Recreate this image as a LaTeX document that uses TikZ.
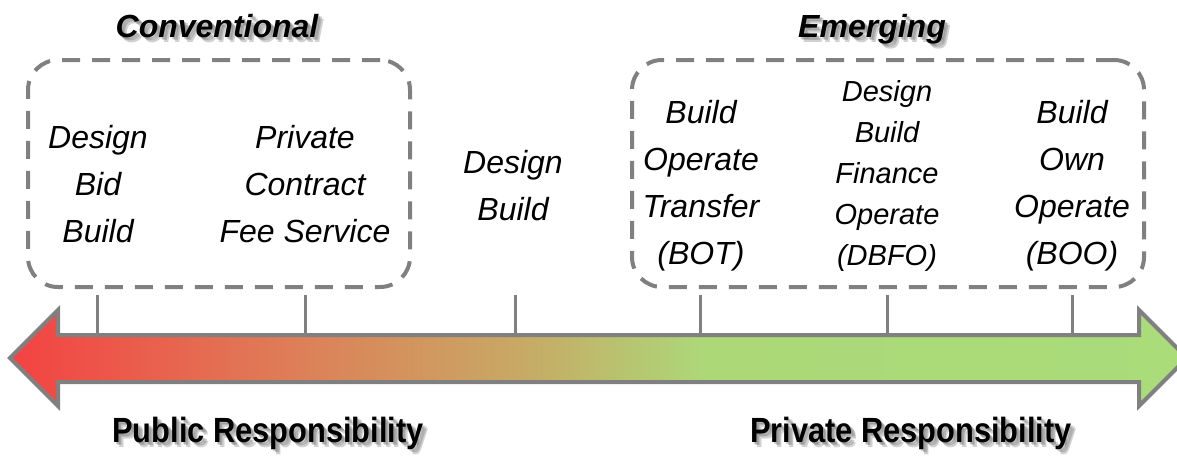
\documentclass[tikz,border=0pt]{standalone}
\usepackage{fontspec}
\setmainfont{Liberation Sans}
\newfontfamily\headfont{Liberation Sans}[FakeStretch=0.88]
\definecolor{lineGray}{RGB}{128,128,128}
\definecolor{cR}{RGB}{244,66,66}
\definecolor{cO}{RGB}{222,126,88}
\definecolor{cT}{RGB}{200,168,100}
\definecolor{cG}{RGB}{172,216,120}
\definecolor{cG2}{RGB}{170,220,122}
\pgfdeclarehorizontalshading{arrowshade}{100bp}{color(0bp)=(cR); color(25bp)=(cR); color(37bp)=(cO); color(46.5bp)=(cT); color(54.5bp)=(cG); color(75bp)=(cG2); color(100bp)=(cG2)}
\begin{document}
\begin{tikzpicture}[x=1pt,y=-1pt,
  itemtext/.style={font=\fontsize{32}{47}\selectfont\itshape, align=center, inner sep=0pt, anchor=north},
  smalltext/.style={font=\fontsize{29}{41}\selectfont\itshape, align=center, inner sep=0pt, anchor=north},
  headtext/.style={font=\fontsize{32}{38}\selectfont\bfseries\itshape, inner sep=0pt, anchor=base},
  foottext/.style={font=\fontsize{35}{40}\selectfont\headfont\bfseries, inner sep=0pt, anchor=base},
  shadowtext/.style={text=black!60, opacity=0.3},
  dbox/.style={draw=lineGray, line width=4pt, dash pattern=on 18pt off 12pt, rounded corners=30pt, inner sep=0pt},
  ticktick/.style={draw=lineGray, line width=3pt},
  bigarrow/.style={draw=lineGray, line width=4pt, line join=miter, shading=arrowshade}
]
\useasboundingbox (0,0) rectangle (1177,455);

% dashed group boxes
\node[dbox, minimum width=382pt, minimum height=227pt] (boxL) at (219,173.5) {};
\node[dbox, minimum width=512pt, minimum height=227pt] (boxR) at (888,173.5) {};

% soft shadows behind the bold texts
\foreach \d in {2,3.5,5}{
  \node[headtext, shadowtext] (convS\d) at (217+\d,37+\d) {Conventional};
  \node[headtext, shadowtext] (emerS\d) at (872+\d,37+\d) {Emerging};
  \node[foottext, shadowtext] (pubS\d) at (268+\d,442+\d) {Public Responsibility};
  \node[foottext, shadowtext] (privS\d) at (911+\d,442+\d) {Private Responsibility};
}

% headings
\node[headtext] (conv) at (217,37) {Conventional};
\node[headtext] (emer) at (872,37) {Emerging};

% items
\node[itemtext] (dbb) at (98,125) {Design\\Bid\\Build};
\node[itemtext] (pcfs) at (305,125) {Private\\Contract\\Fee Service};
\node[itemtext] (db) at (513,150) {Design\\Build};
\node[itemtext] (bot) at (701,100) {Build\\Operate\\Transfer\\(BOT)};
\node[smalltext] (dbfo) at (887,80) {Design\\Build\\Finance\\Operate\\(DBFO)};
\node[itemtext] (boo) at (1072,100) {Build\\Own\\Operate\\(BOO)};

% arrow
\coordinate (tipL) at (10,358);
\coordinate (tipR) at (1187,358);
\path[bigarrow] (tipL) -- (58,310) -- (58,335) -- (1139,335) -- (1139,310) -- (tipR) -- (1139,406) -- (1139,382) -- (58,382) -- (58,406) -- cycle;

% ticks
\foreach \i/\x in {1/97,2/305,3/515,4/700,5/887,6/1072}{
  \coordinate (t\i a) at (\x,295);
  \coordinate (t\i b) at (\x,333);
  \draw[ticktick] (t\i a) -- (t\i b);
}

% footers
\node[foottext] (pub) at (268,442) {Public Responsibility};
\node[foottext] (priv) at (911,442) {Private Responsibility};
\end{tikzpicture}
\end{document}
